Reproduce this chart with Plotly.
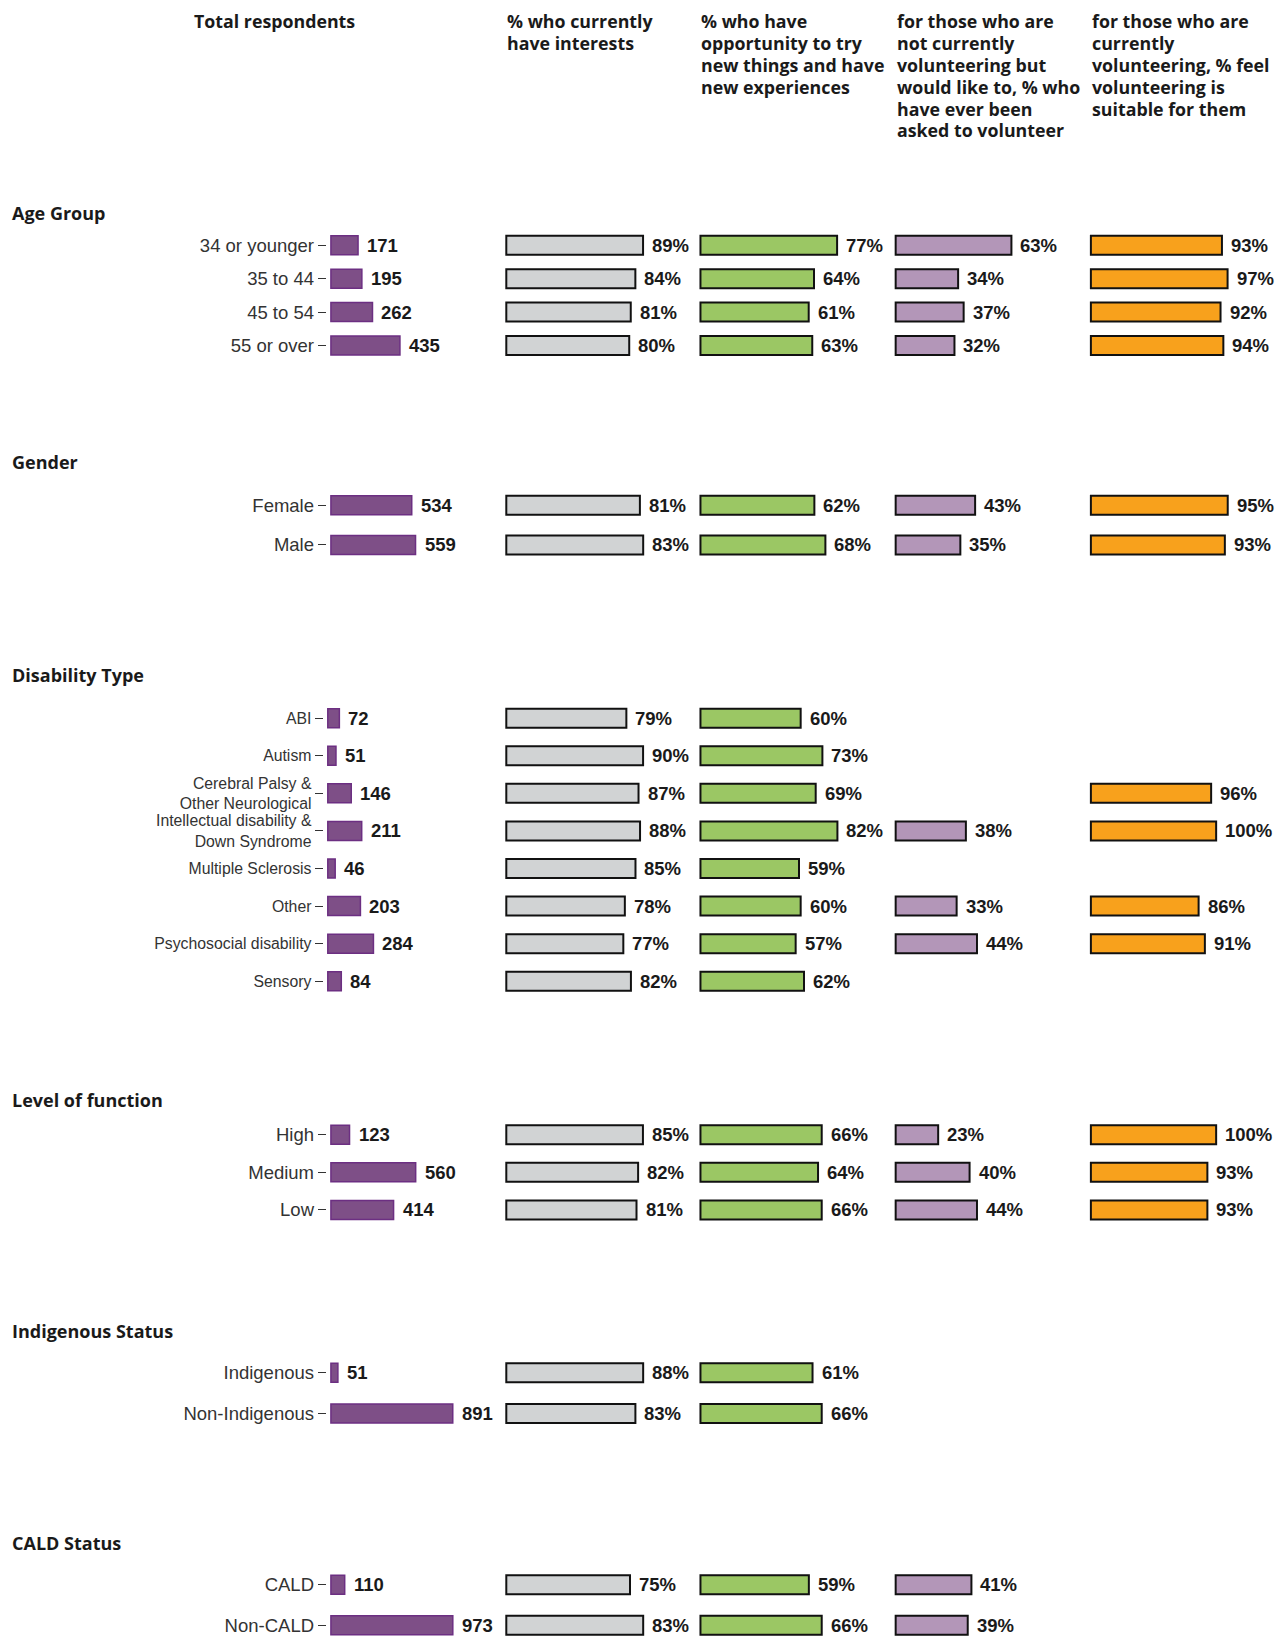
import plotly.graph_objects as go

# ---- data ----
age_labels = ["34 or younger", "35 to 44", "45 to 54", "55 or over"]
age_total = [171, 195, 262, 435]
age_interests = [89, 84, 81, 80]
age_new_things = [77, 64, 61, 63]
age_asked = [63, 34, 37, 32]
age_suitable = [93, 97, 92, 94]

gender_labels = ["Female", "Male"]
gender_total = [534, 559]
gender_interests = [81, 83]
gender_new_things = [62, 68]
gender_asked = [43, 35]
gender_suitable = [95, 93]

disability_labels = ["ABI", "Autism", "Cerebral Palsy &<br>Other Neurological",
                     "Intellectual disability &<br>Down Syndrome", "Multiple Sclerosis",
                     "Other", "Psychosocial disability", "Sensory"]
disability_total = [72, 51, 146, 211, 46, 203, 284, 84]
disability_interests = [79, 90, 87, 88, 85, 78, 77, 82]
disability_new_things = [60, 73, 69, 82, 59, 60, 57, 62]
disability_asked = [None, None, None, 38, None, 33, 44, None]
disability_suitable = [None, None, 96, 100, None, 86, 91, None]

function_labels = ["High", "Medium", "Low"]
function_total = [123, 560, 414]
function_interests = [85, 82, 81]
function_new_things = [66, 64, 66]
function_asked = [23, 40, 44]
function_suitable = [100, 93, 93]

indigenous_labels = ["Indigenous", "Non-Indigenous"]
indigenous_total = [51, 891]
indigenous_interests = [88, 83]
indigenous_new_things = [61, 66]
indigenous_asked = [None, None]
indigenous_suitable = [None, None]

cald_labels = ["CALD", "Non-CALD"]
cald_total = [110, 973]
cald_interests = [75, 83]
cald_new_things = [59, 66]
cald_asked = [41, 39]
cald_suitable = [None, None]

group_names = ["Age Group", "Gender", "Disability Type", "Level of function",
               "Indigenous Status", "CALD Status"]
total_header = "Total respondents"
col_headers = [
    ["% who currently", "have interests"],
    ["% who have", "opportunity to try", "new things and have", "new experiences"],
    ["for those who are", "not currently", "volunteering but", "would like to, % who",
     "have ever been", "asked to volunteer"],
    ["for those who are", "currently", "volunteering, % feel", "volunteering is",
     "suitable for them"],
]

groups = [
    (age_labels, [age_total, age_interests, age_new_things, age_asked, age_suitable]),
    (gender_labels, [gender_total, gender_interests, gender_new_things, gender_asked, gender_suitable]),
    (disability_labels, [disability_total, disability_interests, disability_new_things,
                         disability_asked, disability_suitable]),
    (function_labels, [function_total, function_interests, function_new_things,
                       function_asked, function_suitable]),
    (indigenous_labels, [indigenous_total, indigenous_interests, indigenous_new_things,
                         indigenous_asked, indigenous_suitable]),
    (cald_labels, [cald_total, cald_interests, cald_new_things, cald_asked, cald_suitable]),
]

# ---- layout geometry (reference measured at 1230 px wide, scaled to 1284) ----
PAGE_W, PAGE_H = 1284, 1637
OFF = 8  # the page body margin around the plot div
FW, FH = PAGE_W - 2 * OFF, PAGE_H - OFF
S = PAGE_W / 1230


def px(v):
    # reference (shrunk) pixel -> figure pixel
    return v * S - OFF


title_y = [204, 443, 647, 1054, 1275, 1478]
row_y = [[235, 267, 299, 331], [484, 522], [688, 724, 760, 796, 832, 868, 904, 940],
         [1087, 1123, 1159], [1315, 1354], [1518, 1557]]
# pixels per unit of each panel (reference px)
ppu = [[0.152, 1.472, 1.70, 1.76, 1.35],
       [0.145, 1.58, 1.76, 1.77, 1.38],
       [0.154, 1.456, 1.60, 1.77, 1.20],
       [0.145, 1.54, 1.76, 1.77, 1.20],
       [0.131, 1.49, 1.76, 1.77, 1.35],
       [0.120, 1.58, 1.76, 1.77, 1.35]]
col_start = [317, 485, 671, 858, 1045]
col_width = [160, 182, 182, 182, 182]
fills = ["#7E4F87", "#D1D3D4", "#9BC764", "#B396B8", "#F8A11C"]
lines = ["#6C2F82", "#111111", "#111111", "#111111", "#111111"]
line_w = [1.5, 2, 2, 2, 2]
BAR_PX = 19

FONT = "Liberation Sans, Arial, sans-serif"
HFONT = "Open Sans, Liberation Sans, Arial, sans-serif"

fig = go.Figure()
layout = dict(width=FW, height=FH, margin=dict(l=0, r=0, t=0, b=0, autoexpand=False),
              paper_bgcolor="white", plot_bgcolor="white", showlegend=False)
annotations = []

for g, (labels, series) in enumerate(groups):
    n = len(labels)
    ys = row_y[g]
    sp = (ys[-1] - ys[0]) / (n - 1) * S
    y0 = px(ys[0])
    top = y0 - sp / 2
    bot = min(px(ys[-1]) + sp / 2, FH)
    bw = BAR_PX / sp
    yrange = [(bot - y0) / sp, (top - y0) / sp]
    for c, vals in enumerate(series):
        if all(v is None for v in vals):
            continue
        idx = g * 5 + c + 1
        sfx = "" if idx == 1 else str(idx)
        start = col_start[c] - (3 if (g == 2 and c == 0) else 0)
        gap = 4 if c == 0 else 2
        left = px(start - gap)
        width = col_width[c] * S
        right = min(left + width, FW)
        k = ppu[g][c] * S
        x0 = -gap * S / k
        x1 = x0 + (right - left) / k
        layout["xaxis" + sfx] = dict(domain=[left / FW, right / FW], range=[x0, x1],
                                     visible=False, anchor="y" + sfx, fixedrange=True,
                                     automargin=False)
        layout["yaxis" + sfx] = dict(
            domain=[1 - bot / FH, 1 - top / FH], anchor="x" + sfx,
            type="category", categoryorder="array", categoryarray=labels,
            range=yrange, autorange=False, showgrid=False, zeroline=False,
            showline=False, showticklabels=(c == 0), automargin=False,
            ticks="outside" if c == 0 else "", ticklen=8, tickwidth=1.2, tickcolor="#333333",
            tickfont=dict(family=FONT, size=15.8 if g == 2 else 18.5, color="#333333"),
            fixedrange=True)
        xs = [v for v in vals if v is not None]
        yl = [lab for lab, v in zip(labels, vals) if v is not None]
        fig.add_trace(go.Bar(x=xs, y=yl, orientation="h", width=bw,
                             marker=dict(color=fills[c], line=dict(color=lines[c], width=line_w[c])),
                             xaxis="x" + sfx, yaxis="y" + sfx, hoverinfo="x+y"))
        for v, lab in zip(xs, yl):
            annotations.append(dict(x=v, y=lab, xref="x" + sfx, yref="y" + sfx,
                                    text=f"<b>{v}</b>" if c == 0 else f"<b>{v}%</b>",
                                    showarrow=False, xanchor="left", yanchor="middle", xshift=7,
                                    font=dict(family=FONT, size=18.5, color="#1A1A1A")))
    annotations.append(dict(x=px(10) / FW, y=1 - px(title_y[g]) / FH, xref="paper", yref="paper",
                            text=f"<b>{group_names[g]}</b>", showarrow=False,
                            xanchor="left", yanchor="middle",
                            font=dict(family=HFONT, size=18, color="#1A1A1A")))

# column headers
annotations.append(dict(x=px(263) / FW, y=1 - px(20) / FH, xref="paper", yref="paper",
                        text=f"<b>{total_header}</b>", showarrow=False,
                        xanchor="center", yanchor="middle",
                        font=dict(family=HFONT, size=17.8, color="#1A1A1A")))
for c, hl in enumerate(col_headers):
    for i, line in enumerate(hl):
        annotations.append(dict(x=px(col_start[c + 1] - 1) / FW, y=1 - px(20 + 21 * i) / FH,
                                xref="paper", yref="paper", text=f"<b>{line}</b>",
                                showarrow=False, xanchor="left", yanchor="middle",
                                font=dict(family=HFONT, size=17.8, color="#1A1A1A")))

layout["annotations"] = annotations
fig.update_layout(**layout)
fig.write_html("out.html")
